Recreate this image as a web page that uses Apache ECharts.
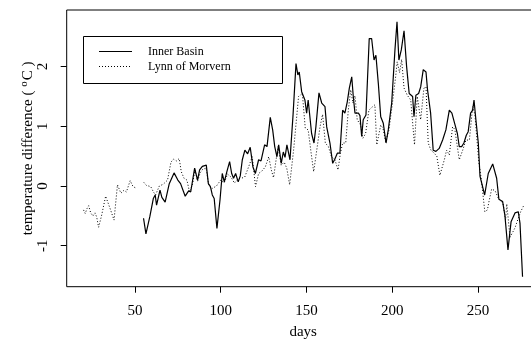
<!DOCTYPE html>
<html>
<head>
<meta charset="utf-8">
<script src="https://cdn.jsdelivr.net/npm/echarts@6/dist/echarts.min.js"></script>
<style>
  html, body { margin: 0; padding: 0; background: #fff; }
  #chart { width: 531px; height: 340px; }
</style>
</head>
<body>
<div id="chart"></div>
<script>
// Daily temperature difference series (°C) by day of year
const innerDays = [55.0,56.4,58.7,60.7,61.8,62.6,64.6,65.7,67.6,70.0,
  72.8,75.0,76.6,79.3,81.3,82.5,84.8,86.5,87.7,89.3,
  91.6,92.8,94.0,95.1,96.2,97.8,99.6,100.9,102.1,103.6,
  105.2,106.4,107.5,108.7,110.2,111.4,112.6,114.1,115.7,117.2,
  118.8,120.2,122.1,123.5,125.6,127.0,128.9,130.3,131.5,132.8,
  133.8,135.3,136.5,137.5,138.6,140.4,142.2,143.9,145.0,145.8,
  147.2,149.1,150.1,151.0,153.0,154.4,155.5,157.3,158.9,160.8,
  161.8,163.7,165.3,166.5,168.0,169.5,171.1,172.4,173.8,175.0,
  176.4,177.3,178.3,180.3,181.2,182.2,183.1,184.7,186.6,188.0,
  189.4,190.5,191.9,193.3,194.8,196.4,197.7,199.7,201.6,202.8,
  203.9,205.3,206.9,208.4,209.9,211.9,212.7,213.8,215.4,216.6,
  218.1,219.7,220.6,222.4,223.9,225.5,227.4,229.4,231.3,233.3,
  234.8,236.4,238.0,239.1,240.5,241.8,243.2,244.3,245.7,246.9,
  247.7,248.8,250.2,251.2,252.3,253.9,256.0,258.6,260.9,262.2,
  264.4,265.7,267.5,269.3,271.6,273.5,274.5,276.0];
const innerTemp = [-0.54,-0.80,-0.51,-0.21,-0.15,-0.32,-0.07,-0.19,-0.27,0.04,
  0.22,0.10,0.04,-0.17,-0.08,-0.10,0.30,0.10,0.27,0.33,
  0.35,0.04,-0.01,-0.15,-0.21,-0.71,-0.23,0.21,0.07,0.24,
  0.41,0.21,0.13,0.21,0.07,0.17,0.44,0.60,0.54,0.65,
  0.32,0.21,0.44,0.42,0.69,0.66,1.15,0.94,0.66,0.49,
  0.69,0.38,0.57,0.48,0.69,0.44,1.20,2.05,1.86,1.91,
  1.58,1.44,1.22,1.44,0.88,0.72,0.99,1.56,1.39,1.33,
  0.99,0.72,0.38,0.45,0.55,0.55,1.27,1.22,1.41,1.64,
  1.83,1.50,1.22,1.22,1.18,0.83,1.11,1.19,2.47,2.47,
  2.11,2.19,1.72,1.16,1.05,0.72,0.94,1.39,2.28,2.75,
  2.11,2.28,2.60,2.00,1.55,1.50,1.16,1.52,1.55,1.66,
  1.95,1.91,1.61,1.22,0.60,0.58,0.63,0.77,0.94,1.27,
  1.22,1.05,0.88,0.66,0.66,0.72,0.85,0.91,1.22,1.27,
  1.44,1.11,0.72,0.16,0.18,-0.15,0.21,0.37,0.13,-0.22,
  -0.26,-0.49,-1.07,-0.60,-0.45,-0.43,-0.62,-1.52];

const lynnDays = [20.0,21.0,22.0,23.0,24.2,25.5,26.7,27.7,28.8,30.5,
  32.9,35.3,37.8,39.8,41.8,43.6,45.0,47.2,48.9,51.0,
  53.0,55.2,56.7,57.8,59.2,60.8,62.0,64.2,66.5,69.0,
  71.0,72.5,74.2,75.8,77.0,78.6,80.3,81.8,83.5,85.0,
  86.5,88.0,89.5,91.5,93.0,94.5,97.5,100.0,102.0,104.0,
  106.0,108.0,110.0,112.0,114.0,116.0,118.4,120.3,122.1,124.0,
  126.0,128.0,129.5,130.8,133.4,135.3,137.0,138.5,140.2,142.5,
  145.4,147.6,149.3,151.0,152.5,154.2,156.0,157.9,159.4,161.0,
  162.8,164.6,166.6,168.4,169.8,171.1,172.9,174.4,175.8,177.1,
  178.3,179.6,181.6,182.9,184.5,186.4,188.2,189.9,191.0,193.3,
  194.6,196.2,198.1,200.0,202.0,202.9,204.3,205.5,206.9,208.8,
  210.8,213.0,214.6,216.6,218.5,219.7,221.0,222.6,224.5,226.0,
  227.8,230.4,231.7,233.3,235.2,236.5,239.1,241.1,243.0,245.0,
  246.9,248.2,250.5,252.0,254.0,255.5,256.5,258.0,260.0,261.8,
  263.3,264.6,265.5,266.1,266.8,268.7,271.6,273.5,274.9,276.8];
const lynnTemp = [-0.40,-0.46,-0.38,-0.33,-0.45,-0.50,-0.45,-0.52,-0.69,-0.50,
  -0.17,-0.36,-0.57,0.02,-0.12,-0.07,-0.10,0.09,-0.01,-0.04,
  null,0.06,0.01,0.04,-0.01,-0.10,-0.15,0.00,0.03,0.10,
  0.40,0.45,0.42,0.46,0.24,0.13,0.10,-0.10,0.02,0.27,
  0.08,0.22,0.28,0.30,0.02,-0.05,0.00,0.10,0.05,0.20,
  0.15,0.05,0.12,0.13,0.15,0.30,0.49,-0.01,0.21,0.25,
  0.32,0.49,0.27,0.14,0.66,0.35,0.40,0.30,0.02,0.60,
  1.50,1.55,0.97,0.94,0.60,0.24,0.60,0.99,1.20,0.72,
  0.66,0.49,0.44,0.27,0.55,0.72,0.72,1.27,1.61,1.39,
  1.51,1.11,1.02,0.80,0.88,1.27,1.32,1.36,0.69,1.02,
  0.97,0.74,0.94,1.36,1.83,2.08,1.90,2.12,1.64,1.52,
  1.44,0.69,1.50,1.11,1.64,1.66,0.72,0.60,0.55,0.50,
  0.18,0.44,0.60,0.52,0.99,0.95,0.44,0.60,0.77,0.77,
  1.33,1.20,0.40,0.10,-0.43,-0.40,-0.25,-0.05,-0.08,-0.20,
  -0.25,-0.29,-0.30,-0.57,-0.30,-0.86,-0.70,-0.54,-0.43,-0.32];

const xTicks = [50, 100, 150, 200, 250];
const yTicks = [-1, 0, 1, 2];
const seriesNames = ['Inner Basin', 'Lynn of Morvern'];

const FONT = 'Liberation Serif';
const toPairs = (xs, ys) => xs.map((d, i) => [d, ys[i] == null ? '-' : ys[i]]);

const chart = echarts.init(document.getElementById('chart'), null, { renderer: 'canvas' });

// legend box drawn by hand in the upper-left of the plot
const legendGraphics = [
  { type: 'rect', shape: { x: 83.5, y: 36.5, width: 199, height: 47 },
    style: { fill: '#fff', stroke: '#000', lineWidth: 1 }, z: 100 },
  { type: 'line', shape: { x1: 99, y1: 51.5, x2: 132, y2: 51.5 },
    style: { stroke: '#000', lineWidth: 1.2 }, z: 101 },
  { type: 'line', shape: { x1: 99, y1: 66.5, x2: 132, y2: 66.5 },
    style: { stroke: '#000', lineWidth: 1, lineDash: [1, 2] }, z: 101 },
  { type: 'text', x: 148, y: 51.5, z: 101,
    style: { text: seriesNames[0], font: '12px "' + FONT + '"', fill: '#000', verticalAlign: 'middle' } },
  { type: 'text', x: 148, y: 66.5, z: 101,
    style: { text: seriesNames[1], font: '12px "' + FONT + '"', fill: '#000', verticalAlign: 'middle' } }
];

chart.setOption({
  animation: false,
  backgroundColor: '#fff',
  textStyle: { fontFamily: FONT },
  grid: {
    left: 66.7, top: 10, width: 473, height: 276.7,
    outerBoundsMode: 'none', containLabel: false,
    show: true, borderColor: '#000', borderWidth: 1, backgroundColor: 'transparent'
  },
  xAxis: {
    type: 'value', min: 10.2, max: 286,
    name: 'days', nameLocation: 'middle', nameGap: 38, nameMoveOverlap: false,
    nameTextStyle: { fontFamily: FONT, fontSize: 15, color: '#000' },
    axisLine: { show: false, onZero: false },
    axisTick: { show: true, inside: false, length: 6, customValues: xTicks,
      lineStyle: { color: '#000', width: 1 } },
    axisLabel: { customValues: xTicks, margin: 17, fontFamily: FONT, fontSize: 15, color: '#000' },
    splitLine: { show: false }
  },
  yAxis: {
    type: 'value', min: -1.686, max: 2.948,
    name: 'temperature difference ( {sup|o}C )', nameLocation: 'middle', nameGap: 29,
    nameMoveOverlap: false, nameRotate: 90,
    nameTextStyle: { fontFamily: FONT, fontSize: 15, color: '#000',
      rich: { sup: { fontFamily: FONT, fontSize: 11, color: '#000', padding: [0, 1, 8, 0] } } },
    axisLine: { show: false, onZero: false },
    axisTick: { show: true, inside: false, length: 6, customValues: yTicks,
      lineStyle: { color: '#000', width: 1 } },
    axisLabel: { customValues: yTicks, rotate: 90, margin: 16, fontFamily: FONT, fontSize: 15, color: '#000' },
    splitLine: { show: false }
  },
  series: [
    { name: seriesNames[0], type: 'line', data: toPairs(innerDays, innerTemp),
      showSymbol: false, symbol: 'none', connectNulls: false,
      lineStyle: { color: '#000', width: 1.2, type: 'solid' }, z: 3 },
    { name: seriesNames[1], type: 'line', data: toPairs(lynnDays, lynnTemp),
      showSymbol: false, symbol: 'none', connectNulls: false,
      lineStyle: { color: '#000', width: 1, type: [1, 2] }, z: 2 }
  ],
  graphic: legendGraphics
});
</script>
</body>
</html>
